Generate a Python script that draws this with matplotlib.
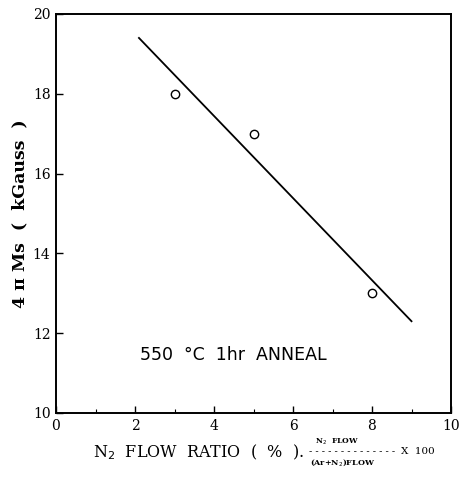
import matplotlib
matplotlib.use("Agg")
from matplotlib import pyplot
from matplotlib.ticker import MultipleLocator

# measured points
flow_ratio = [3, 5, 8]
ms_value = [18.0, 17.0, 13.0]

# fitted line end points
fit_x = [2.1, 9.0]
fit_y = [19.4, 12.3]

pyplot.rcParams['font.family'] = ['DejaVu Serif']

fig = pyplot.figure(figsize=(4.60, 4.78), dpi=100)
ax = fig.add_axes([56 / 460, 1 - 413 / 478, 395 / 460, 399 / 478])

ax.plot(fit_x, fit_y, color="black", lw=1.3)
ax.plot(flow_ratio, ms_value, "o", mfc="white", mec="black", ms=6, mew=1.0)

ax.set_xlim(0, 10)
ax.set_ylim(10, 20)
ax.xaxis.set_major_locator(MultipleLocator(2))
ax.xaxis.set_minor_locator(MultipleLocator(1))
ax.yaxis.set_major_locator(MultipleLocator(2))
ax.tick_params(which="both", direction="in", top=False, right=False,
               labelsize=10, pad=4)
ax.tick_params(which="major", length=5, width=1.0)
ax.tick_params(which="minor", length=3, width=0.8)
for s in ax.spines.values():
    s.set_linewidth(1.4)

ax.set_ylabel("4 π Ms  (  kGauss  )", fontsize=12.5, fontweight="bold", labelpad=3)

ax.text(2.13, 11.45, "550  °C  1hr  ANNEAL", fontsize=12.5, va="center", ha="left",
        family="DejaVu Sans")

# x label built from pieces
fig.text(93 / 460, 1 - 452 / 478, "N$_2$  FLOW  RATIO  (  %  ).", fontsize=11.5,
         ha="left", va="center")
fig.text(337 / 460, 1 - 442 / 478, "N$_2$  FLOW", fontsize=5.5, ha="center",
         va="center", fontweight="bold")
fig.text(352 / 460, 1 - 452 / 478, "- " * 13 + "-", fontsize=7, ha="center",
         va="center")
fig.text(343 / 460, 1 - 463 / 478, "(Ar+N$_2$)FLOW", fontsize=5.8, ha="center",
         va="center", fontweight="bold")
fig.text(401 / 460, 1 - 452 / 478, "X  100", fontsize=7.5, ha="left", va="center")

pyplot.savefig("out.png", dpi=100)
